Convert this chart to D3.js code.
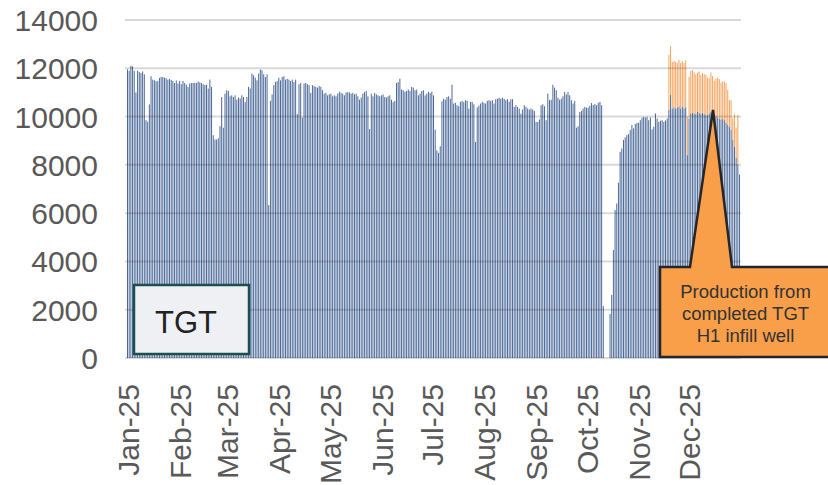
<!DOCTYPE html>
<html>
<head>
<meta charset="utf-8">
<script src="https://cdn.jsdelivr.net/npm/d3@7"></script>
<style>
  body { margin: 0; background: #fff; }
  svg { display: block; font-family: "Liberation Sans", Arial, sans-serif; }
</style>
</head>
<body>
<script>
const W = 828
const H = 485

// daily base production, 2025, one line per month
const baseProduction = [
  // Jan
  11950, 11900, 12100, 12080, 11900, 11000, 11900, 11850, 11800, 11870, 11750, 9850, 9780, 10500, 11670, 11530,
  11500, 11460, 11470, 11600, 11640, 11640, 11610, 11590, 11530, 11560, 11520, 11475, 11390, 11500, 11370,
  // Feb
  11475, 11340, 11475, 11390, 11320, 11230, 11370, 11390, 11390, 11400, 11390, 11450, 11420, 11390,
  11340, 11310, 11320, 11160, 11530, 11230, 9230, 9050, 9050, 9100, 9600, 10810, 9540, 10950,
  // Mar
  11090, 11060, 10840, 10880, 10810, 10880, 10700, 10790, 10750, 10880, 10810, 10600, 10810, 11230, 11160, 11780,
  11710, 11610, 11500, 11780, 11950, 11920, 11750, 11640, 11750, 6330, 10650, 10920, 11300, 11430, 11470,
  // Apr
  11610, 11500, 11640, 11670, 11530, 11560, 11530, 11475, 11530, 11430, 11530, 10100, 11340, 11390, 9960,
  11370, 11390, 11340, 11300, 10980, 11300, 11260, 11230, 11200, 11270, 11230, 11090, 10950, 10980, 10880,
  // May
  10920, 10950, 10840, 10880, 10840, 10950, 11030, 10980, 10950, 10880, 11000, 11010, 11000, 10950, 10980, 10920,
  10950, 10840, 10700, 10790, 10950, 11010, 11060, 10840, 9480, 10950, 10840, 10980, 10920, 10880, 10840,
  // Jun
  10880, 10920, 10810, 10790, 10840, 10880, 10700, 10600, 10650, 11390, 11430, 11570, 11120, 11090, 11030,
  11060, 11120, 11060, 11230, 11200, 11090, 11120, 10880, 10950, 11060, 11090, 10880, 10950, 11030, 10980,
  // Jul
  11030, 10880, 9460, 8600, 8500, 8770, 10630, 10740, 10700, 10810, 10840, 10740, 11320, 10540, 10570, 10470,
  10430, 10610, 10650, 10600, 10680, 10650, 10330, 10610, 10610, 10510, 8950, 10380, 10450, 10540, 10610,
  // Aug
  10570, 10540, 10650, 10680, 10650, 10680, 10540, 10720, 10740, 10780, 10740, 10780, 10740, 10680, 10720, 10610,
  10720, 10720, 10400, 10470, 10400, 10330, 10120, 10290, 10470, 10400, 10330, 10290, 10330, 10290, 10230,
  // Sep
  9780, 9780, 9880, 10470, 10510, 10430, 9850, 10950, 10680, 10700, 11320, 11200, 11090, 10780, 10700,
  10740, 10840, 11020, 10920, 11020, 10880, 10680, 10540, 10650, 9540, 9600, 10190, 10230, 10330, 10400,
  // Oct
  10370, 10370, 10450, 10560, 10480, 10520, 10470, 10570, 10610, 10470, 2150, 0, 0, 0, 1820, 2610,
  4470, 6130, 6400, 7260, 8540, 8680, 9030, 9140, 9230, 9270, 9440, 9650, 9510, 9690, 9740,
  // Nov
  9740, 9850, 9950, 9990, 9960, 9990, 9850, 9960, 9470, 9580, 10130, 9920, 9780, 9830, 9850,
  9780, 9830, 9920, 10290, 10900, 10340, 10380, 10340, 10380, 10420, 10340, 10420, 10340, 10380, 8400,
  // Dec
  9920, 10130, 10160, 10130, 10100, 10200, 10160, 10100, 10160, 10100, 10060, 10060, 10130, 10200, 10020, 9960,
  10020, 9960, 9920, 9880, 9920, 9850, 9740, 9650, 9580, 9440, 9030, 8750, 8300, 8000, 7600
]

// extra production from the TGT H1 infill well, from 19 Nov 2025
const infillStart = new Date(2025, 10, 19)
const infillProduction = [
  2270, 2020, 1920, 1920, 1920, 1840, 1930, 1880, 1880, 1880, 1950, 1590, 1720, 1760,
  1770, 1710, 1650, 1620, 1710, 1620, 1650, 1660, 1660, 1550, 1450, 1630, 1660, 1520,
  1550, 1660, 1630, 1520, 1550, 1600, 1650, 1450, 1100, 1240, 900, 1350, 1240, 2050
]

const yTicks = [0, 2000, 4000, 6000, 8000, 10000, 12000, 14000]
const monthLabels = ['Jan-25', 'Feb-25', 'Mar-25', 'Apr-25', 'May-25', 'Jun-25',
  'Jul-25', 'Aug-25', 'Sep-25', 'Oct-25', 'Nov-25', 'Dec-25']
const boxLabel = 'TGT'
const calloutLines = ['Production from', 'completed TGT', 'H1 infill well']

const days = d3.timeDay.range(new Date(2025, 0, 1), new Date(2026, 0, 1))
const baseData = days.map((d, i) => ({ date: d, value: baseProduction[i] }))
const infillData = infillProduction.map((v, i) => {
  const date = d3.timeDay.offset(infillStart, i)
  const idx = d3.timeDay.count(days[0], date)
  return { date: date, base: baseProduction[idx], value: v }
})
const monthStarts = d3.timeMonth.range(new Date(2025, 0, 1), new Date(2026, 0, 1))

const x = d3.scaleTime()
  .domain([days[0], days[days.length - 1]])
  .range([127.5, 739.5])
const y = d3.scaleLinear().domain([0, 14000]).range([358, 20])
const barW = 1.0

const svg = d3.select('body').append('svg')
  .attr('width', W)
  .attr('height', H)

// base bars
svg.append('g').selectAll('rect')
  .data(baseData)
  .enter()
  .append('rect')
  .attr('x', d => x(d.date) - barW / 2)
  .attr('y', d => y(d.value))
  .attr('width', barW)
  .attr('height', d => y(0) - y(d.value))
  .attr('fill', '#4c6a99')

// infill bars stacked on top
svg.append('g').selectAll('rect')
  .data(infillData)
  .enter()
  .append('rect')
  .attr('x', d => x(d.date) - barW / 2)
  .attr('y', d => y(d.base + d.value))
  .attr('width', barW)
  .attr('height', d => y(d.base) - y(d.base + d.value))
  .attr('fill', '#f6a35c')

// gridlines on top, semi transparent
svg.append('g').selectAll('line')
  .data(yTicks)
  .enter()
  .append('line')
  .attr('x1', 125)
  .attr('x2', 741)
  .attr('y1', d => y(d))
  .attr('y2', d => y(d))
  .attr('stroke', '#000')
  .attr('stroke-opacity', 0.15)
  .attr('stroke-width', 2)

// y axis
const yAxis = svg.append('g')
  .attr('transform', 'translate(98,0)')
  .call(d3.axisLeft(y).tickValues(yTicks).tickSize(0).tickPadding(0).tickFormat(d3.format('d')))
yAxis.select('.domain').remove()
yAxis.selectAll('text')
  .attr('font-size', '30px')
  .attr('font-family', '"Liberation Sans", Arial, sans-serif')
  .attr('fill', '#595959')
  .attr('dy', '0.35em')

// x axis
const xAxis = svg.append('g')
  .attr('transform', 'translate(0,358)')
  .call(d3.axisBottom(x).tickValues(monthStarts).tickSize(0).tickFormat((d, i) => monthLabels[i]))
xAxis.select('.domain').remove()
xAxis.selectAll('text')
  .attr('font-size', '30px')
  .attr('font-family', '"Liberation Sans", Arial, sans-serif')
  .attr('fill', '#595959')
  .attr('transform', 'rotate(-90)')
  .attr('text-anchor', 'end')
  .attr('x', -26)
  .attr('y', 0)
  .attr('dy', '0.36em')

// TGT box
svg.append('rect')
  .attr('x', 134)
  .attr('y', 285)
  .attr('width', 115)
  .attr('height', 69)
  .attr('fill', '#eff0f4')
  .attr('stroke', '#1c4f4f')
  .attr('stroke-width', 2.5)
svg.append('text')
  .attr('x', 186)
  .attr('y', 333)
  .attr('text-anchor', 'middle')
  .attr('font-size', '31px')
  .attr('fill', '#222')
  .text(boxLabel)

// callout
svg.append('path')
  .attr('d', 'M660,267 L690,267 L713,110 L732,267 L835,267 L835,357 L660,357 Z')
  .attr('fill', '#f99f4a')
  .attr('stroke', '#262626')
  .attr('stroke-width', 2.5)
  .attr('stroke-linejoin', 'miter')
svg.append('g').selectAll('text')
  .data(calloutLines)
  .enter()
  .append('text')
  .attr('x', 745.5)
  .attr('y', (d, i) => 298 + i * 22)
  .attr('text-anchor', 'middle')
  .attr('font-size', '18.5px')
  .attr('fill', '#333')
  .text(d => d)
</script>
</body>
</html>
